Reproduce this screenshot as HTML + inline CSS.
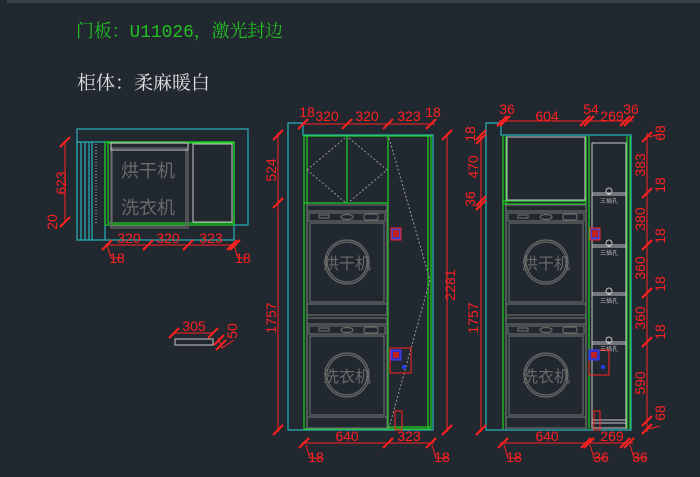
<!DOCTYPE html>
<html><head><meta charset="utf-8"><style>
html,body{margin:0;padding:0;background:#212830;}
svg{display:block}
.d{fill:#ff2020;font-family:"Liberation Sans",sans-serif;font-size:14px}
.r{stroke:#ff2020;fill:none;stroke-width:1}
.c{stroke:#2bb0b8;fill:none;stroke-width:1.2}
.g{stroke:#22d022;fill:none;stroke-width:1.2}
.w{stroke:#c8c8c8;fill:none;stroke-width:1}
.m{stroke:#6a6a6a;fill:none;stroke-width:1.2}
.dot{stroke:#9a9a9a;fill:none;stroke-width:1;stroke-dasharray:2 2}
.mt{fill:#6a6a6a;font-family:"Liberation Sans","Noto Sans CJK SC",sans-serif}
</style></head><body>
<svg width="700" height="477" viewBox="0 0 700 477" xmlns="http://www.w3.org/2000/svg">
<defs>
<g id="tick"><line x1="-5" y1="5" x2="5" y2="-5" stroke="#ff2020" stroke-width="2"/></g>
<g id="mach">
 <rect x="0" y="0" width="80" height="110" class="m"/>
 <line x1="0" y1="6" x2="80" y2="6" class="m"/>
 <rect x="2" y="8" width="76" height="8" class="m"/>
 <rect x="12" y="10" width="10" height="3" class="m"/>
 <ellipse cx="40" cy="12" rx="6" ry="2.5" class="m"/>
 <rect x="57" y="9" width="14" height="6" rx="2" class="m"/>
 <rect x="3" y="18" width="74" height="79" class="m"/>
 <circle cx="40" cy="57" r="22" class="m"/>
 <circle cx="40" cy="57" r="20" class="m"/>
 <line x1="0" y1="99" x2="80" y2="99" class="m"/>
</g>
</defs>
<rect x="7" y="0" width="693" height="3" fill="#3a4048"/>
<text x="76" y="37" fill="#22c022" font-size="18" font-family="Liberation Mono,'Noto Serif CJK SC',monospace" textLength="207" lengthAdjust="spacingAndGlyphs">门板：U11026，激光封边</text>
<text x="77" y="89" fill="#e0e0e0" font-size="19" font-family="'Liberation Serif','Noto Serif CJK SC',serif" textLength="133" lengthAdjust="spacingAndGlyphs">柜体：柔麻暖白</text>

<!-- left plan -->
<rect x="77" y="129" width="171" height="96" class="c"/>
<rect x="77" y="142" width="157" height="98" class="c" style="fill:#212830"/>
<line x1="81" y1="142" x2="81" y2="240" class="c"/><line x1="85" y1="142" x2="85" y2="240" class="c"/><line x1="89" y1="142" x2="89" y2="240" class="c"/><line x1="92" y1="142" x2="92" y2="240" class="c"/>
<line x1="105" y1="142" x2="105" y2="240" class="c"/>
<path d="M96 144 V225" class="w" stroke-dasharray="1 2"/>
<rect x="105" y="142" width="129" height="83" class="g"/>
<rect x="108" y="143" width="126" height="80" class="g"/>
<rect x="111" y="143" width="77" height="85" class="m"/>
<rect x="112" y="148" width="74" height="78" class="m"/>
<rect x="111" y="143" width="77" height="7" class="w"/>
<rect x="193" y="144" width="39" height="78" class="w"/>
<text x="148" y="177" class="mt" font-size="18" text-anchor="middle">烘干机</text>
<text x="148" y="214" class="mt" font-size="18" text-anchor="middle">洗衣机</text>
<line x1="65" y1="142" x2="65" y2="222" class="r"/><use href="#tick" x="65" y="142"/><use href="#tick" x="65" y="222"/>
<text class="d" transform="translate(66,183) rotate(-90)" text-anchor="middle">623</text>
<text class="d" transform="translate(57,222) rotate(-90)" text-anchor="middle">20</text>
<line x1="105" y1="245" x2="237" y2="245" class="r"/>
<use href="#tick" x="107" y="245"/><use href="#tick" x="148" y="245"/><use href="#tick" x="188" y="245"/><use href="#tick" x="232" y="245"/><use href="#tick" x="235" y="245"/>
<text x="129" y="243" class="d" text-anchor="middle">320</text><text x="168" y="243" class="d" text-anchor="middle">320</text><text x="211" y="243" class="d" text-anchor="middle">323</text>
<path d="M107 245 L111 258 H120 M234 245 L238 258 H248" class="r"/>
<text x="117" y="263" class="d" text-anchor="middle">18</text><text x="243" y="263" class="d" text-anchor="middle">18</text>

<!-- small part -->
<rect x="175" y="339" width="38" height="6" class="w"/>
<line x1="173" y1="333" x2="214" y2="333" class="r"/><use href="#tick" x="174" y="333"/><use href="#tick" x="213" y="333"/>
<text x="194" y="331" class="d" text-anchor="middle">305</text>
<path d="M218 338 L222 348 L234 340" class="r"/><use href="#tick" x="219" y="340"/><use href="#tick" x="221" y="345"/>
<text class="d" transform="translate(237,331) rotate(-90)" text-anchor="middle">50</text>

<!-- middle elevation -->
<path d="M288 123 H303 V135 H433 V430 H288 Z" class="c"/>
<rect x="304" y="136" width="127" height="293" class="g"/>
<line x1="307" y1="136" x2="307" y2="429" class="g"/>
<line x1="428" y1="136" x2="428" y2="429" class="g"/>
<line x1="388" y1="136" x2="388" y2="429" class="g"/>
<line x1="304" y1="203" x2="388" y2="203" class="g"/>
<line x1="347" y1="136" x2="347" y2="203" class="g"/>
<line x1="388" y1="427" x2="431" y2="427" class="g"/>
<path d="M307 170 L345 138 M349 138 L387 170 L349 202 M345 202 L307 170" class="dot"/>
<path d="M389 138 L430 280 L389 428" class="dot"/>
<use href="#mach" x="307" y="205"/>
<use href="#mach" x="307" y="318"/>
<text x="347" y="269" class="mt" font-size="16" text-anchor="middle">烘干机</text>
<text x="347" y="382" class="mt" font-size="16" text-anchor="middle">洗衣机</text>
<rect x="391" y="228" width="10" height="12" fill="#4040c0" stroke="#ff2020"/><rect x="393" y="230" width="6" height="7" fill="#c02020"/>
<rect x="390" y="348" width="21" height="25" class="r"/>
<rect x="391" y="350" width="10" height="10" fill="#3030c0" stroke="#4040ff"/><rect x="393" y="352" width="6" height="6" fill="#c02020"/>
<circle cx="404" cy="367" r="2" fill="#2040ff"/>
<rect x="395" y="411" width="7" height="19" class="r"/>
<line x1="301" y1="124" x2="435" y2="124" class="r"/>
<use href="#tick" x="303" y="124"/><use href="#tick" x="347" y="124"/><use href="#tick" x="388" y="124"/><use href="#tick" x="431" y="124"/>
<text x="307" y="117" class="d" text-anchor="middle">18</text><text x="327" y="121" class="d" text-anchor="middle">320</text><text x="367" y="121" class="d" text-anchor="middle">320</text><text x="409" y="121" class="d" text-anchor="middle">323</text><text x="433" y="117" class="d" text-anchor="middle">18</text>
<line x1="278" y1="133" x2="278" y2="432" class="r"/><use href="#tick" x="278" y="135"/><use href="#tick" x="278" y="203"/><use href="#tick" x="278" y="430"/>
<text class="d" transform="translate(276,170) rotate(-90)" text-anchor="middle">524</text>
<text class="d" transform="translate(276,318) rotate(-90)" text-anchor="middle">1757</text>
<line x1="447" y1="133" x2="447" y2="432" class="r"/><use href="#tick" x="447" y="135"/><use href="#tick" x="447" y="430"/>
<text class="d" transform="translate(455,285) rotate(-90)" text-anchor="middle">2281</text>
<line x1="302" y1="443" x2="434" y2="443" class="r"/>
<use href="#tick" x="304" y="443"/><use href="#tick" x="388" y="443"/><use href="#tick" x="431" y="443"/>
<text x="347" y="441" class="d" text-anchor="middle">640</text><text x="409" y="441" class="d" text-anchor="middle">323</text>
<path d="M306 445 L310 458 H322 M432 445 L436 458 H448" class="r"/>
<text x="316" y="462" class="d" text-anchor="middle">18</text><text x="442" y="462" class="d" text-anchor="middle">18</text>

<!-- right elevation -->
<path d="M486 123 H501 V135 H631 V430 H486 Z" class="c"/>
<line x1="503" y1="136" x2="503" y2="429" class="g"/><line x1="506" y1="136" x2="506" y2="429" class="g"/>
<line x1="586" y1="136" x2="586" y2="429" class="g"/><line x1="589" y1="136" x2="589" y2="429" class="g"/>
<line x1="627" y1="136" x2="627" y2="429" class="g"/><line x1="630" y1="136" x2="630" y2="429" class="g"/>
<line x1="503" y1="201" x2="586" y2="201" class="g"/><line x1="503" y1="204" x2="586" y2="204" class="g"/>
<rect x="507" y="137" width="78" height="63" class="w"/>
<rect x="592" y="143" width="34" height="285" class="w"/>
<g class="w">
<line x1="592" y1="193" x2="626" y2="193"/><line x1="592" y1="195" x2="626" y2="195"/>
<line x1="592" y1="245" x2="626" y2="245"/><line x1="592" y1="247" x2="626" y2="247"/>
<line x1="592" y1="293" x2="626" y2="293"/><line x1="592" y1="295" x2="626" y2="295"/>
<line x1="592" y1="342" x2="626" y2="342"/><line x1="592" y1="344" x2="626" y2="344"/>
<line x1="592" y1="420" x2="626" y2="420"/><line x1="592" y1="423" x2="626" y2="423"/>
<circle cx="609" cy="191" r="3"/><circle cx="609" cy="243" r="3"/><circle cx="609" cy="291" r="3"/><circle cx="609" cy="340" r="3"/>
</g>
<g fill="#bbbbbb" font-size="6" font-family="'Noto Sans CJK SC',sans-serif" text-anchor="middle">
<text x="609" y="203">三插孔</text><text x="609" y="255">三插孔</text><text x="609" y="303">三插孔</text><text x="609" y="351">三插孔</text></g>
<use href="#mach" x="506" y="205"/>
<use href="#mach" x="506" y="318"/>
<text x="546" y="269" class="mt" font-size="16" text-anchor="middle">烘干机</text>
<text x="546" y="382" class="mt" font-size="16" text-anchor="middle">洗衣机</text>
<rect x="590" y="228" width="10" height="12" fill="#4040c0" stroke="#ff2020"/><rect x="592" y="230" width="6" height="7" fill="#c02020"/>
<rect x="589" y="350" width="20" height="25" class="r"/>
<rect x="589" y="350" width="10" height="10" fill="#3030c0" stroke="#4040ff"/><rect x="591" y="352" width="6" height="6" fill="#c02020"/>
<circle cx="603" cy="367" r="2" fill="#2040ff"/>
<rect x="594" y="411" width="6" height="19" class="r"/>
<line x1="499" y1="121" x2="633" y2="121" class="r"/>
<use href="#tick" x="502" y="121"/><use href="#tick" x="505" y="121"/><use href="#tick" x="585" y="121"/><use href="#tick" x="589" y="121"/><use href="#tick" x="625" y="121"/><use href="#tick" x="629" y="121"/>
<text x="507" y="114" class="d" text-anchor="middle">36</text><text x="547" y="121" class="d" text-anchor="middle">604</text><text x="591" y="114" class="d" text-anchor="middle">54</text><text x="612" y="121" class="d" text-anchor="middle">269</text><text x="631" y="114" class="d" text-anchor="middle">36</text>
<line x1="481" y1="133" x2="481" y2="432" class="r"/>
<use href="#tick" x="481" y="135"/><use href="#tick" x="481" y="139"/><use href="#tick" x="481" y="201"/><use href="#tick" x="481" y="205"/><use href="#tick" x="481" y="430"/>
<text class="d" transform="translate(475,134) rotate(-90)" text-anchor="middle">18</text>
<text class="d" transform="translate(478,167) rotate(-90)" text-anchor="middle">470</text>
<text class="d" transform="translate(475,199) rotate(-90)" text-anchor="middle">36</text>
<text class="d" transform="translate(478,318) rotate(-90)" text-anchor="middle">1757</text>
<line x1="647" y1="133" x2="647" y2="432" class="r"/>
<use href="#tick" x="647" y="137"/><use href="#tick" x="647" y="193"/><use href="#tick" x="647" y="245"/><use href="#tick" x="647" y="293"/><use href="#tick" x="647" y="342"/><use href="#tick" x="647" y="421"/><use href="#tick" x="647" y="429"/>
<path d="M649 137 L660 134 M649 429 L660 426" class="r"/>
<text class="d" transform="translate(665,133) rotate(-90)" text-anchor="middle">68</text>
<text class="d" transform="translate(645,165) rotate(-90)" text-anchor="middle">383</text>
<text class="d" transform="translate(665,185) rotate(-90)" text-anchor="middle">18</text>
<text class="d" transform="translate(645,219) rotate(-90)" text-anchor="middle">380</text>
<text class="d" transform="translate(665,236) rotate(-90)" text-anchor="middle">18</text>
<text class="d" transform="translate(645,268) rotate(-90)" text-anchor="middle">360</text>
<text class="d" transform="translate(665,284) rotate(-90)" text-anchor="middle">18</text>
<text class="d" transform="translate(645,318) rotate(-90)" text-anchor="middle">360</text>
<text class="d" transform="translate(665,332) rotate(-90)" text-anchor="middle">18</text>
<text class="d" transform="translate(645,383) rotate(-90)" text-anchor="middle">590</text>
<text class="d" transform="translate(665,413) rotate(-90)" text-anchor="middle">68</text>
<line x1="500" y1="443" x2="633" y2="443" class="r"/>
<use href="#tick" x="503" y="443"/><use href="#tick" x="586" y="443"/><use href="#tick" x="589" y="443"/><use href="#tick" x="625" y="443"/><use href="#tick" x="629" y="443"/>
<text x="547" y="441" class="d" text-anchor="middle">640</text><text x="612" y="441" class="d" text-anchor="middle">269</text>
<path d="M504 445 L508 458 H520 M590 445 L594 458 H606 M630 445 L634 458 H646" class="r"/>
<text x="514" y="462" class="d" text-anchor="middle">18</text><text x="601" y="462" class="d" text-anchor="middle">36</text><text x="640" y="462" class="d" text-anchor="middle">36</text>
</svg>
</body></html>
